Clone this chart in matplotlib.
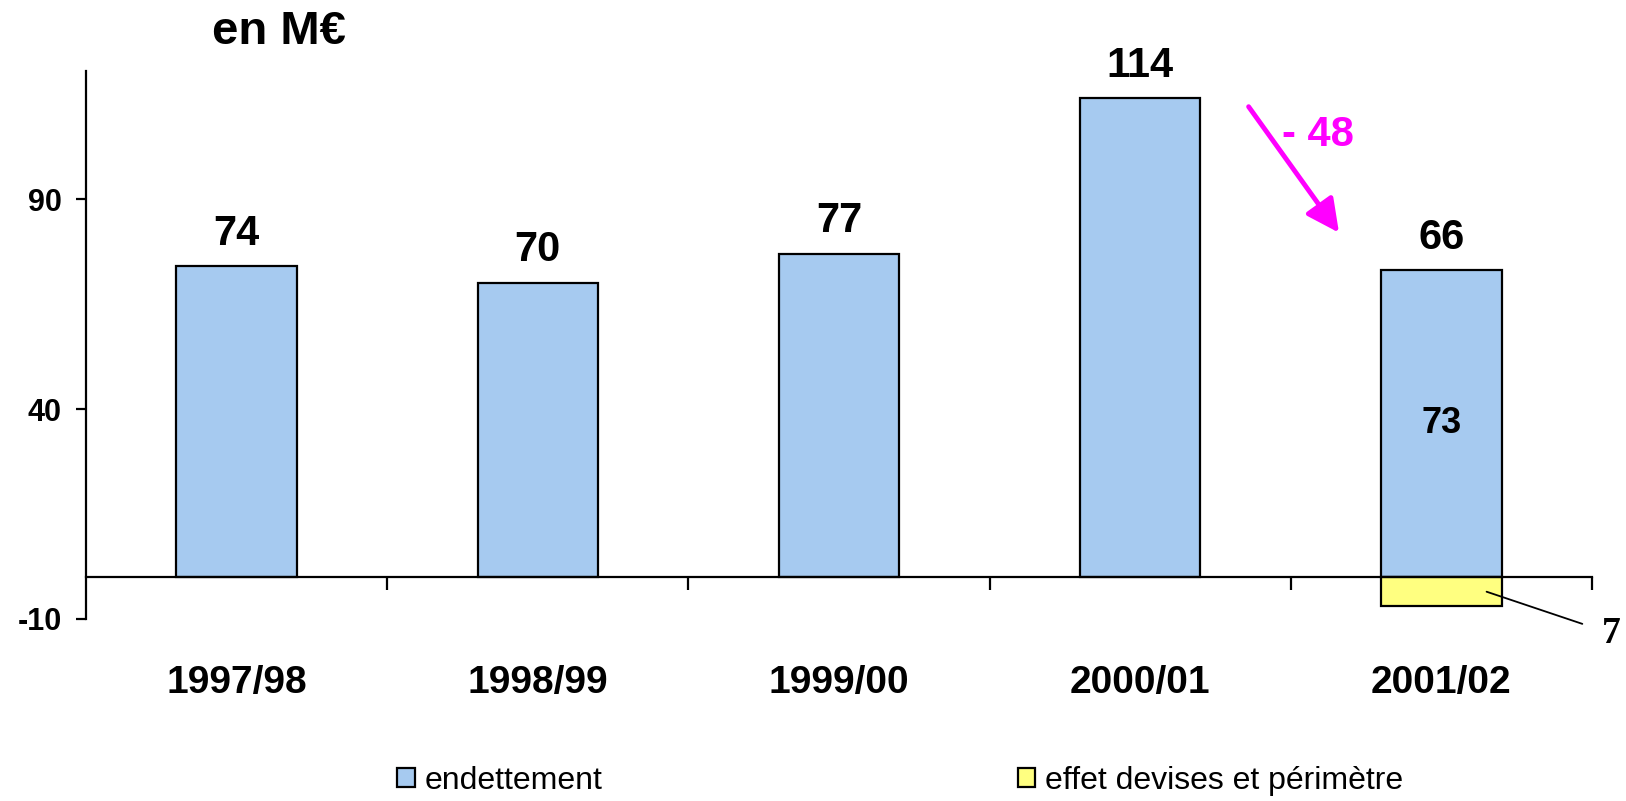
import matplotlib
matplotlib.use("Agg")
import matplotlib.pyplot as plt
import numpy as np
from matplotlib.patches import Patch

categories = ["1997/98", "1998/99", "1999/00", "2000/01", "2001/02"]
endettement = [74, 70, 77, 114, 73]
effet = [0, 0, 0, 0, -7]
top_labels = [74, 70, 77, 114, 66]
variation = "- 48"
yticks = [-10, 40, 90]

plt.rcParams['font.family'] = ['Liberation Sans', 'DejaVu Sans']

fig = plt.figure(figsize=(16.26, 8.01), dpi=100)
ax = fig.add_axes([86/1626, 1-619/801, (1592-86)/1626, (619-71)/801])

x = np.arange(len(categories))
w = 0.4
blue = "#A6CAF0"
yellow = "#FFFF80"
ax.bar(x, endettement, width=w, color=blue, edgecolor="black", linewidth=1.6, zorder=2)
ax.bar(x[-1], effet[-1], width=w, color=yellow, edgecolor="black", linewidth=1.6, zorder=2)

ax.set_xlim(-0.5, len(categories) - 0.5)
ax.set_ylim(-10, 120.5)

for s in ["top", "right"]:
    ax.spines[s].set_visible(False)
ax.spines["left"].set_linewidth(1.6)
ax.spines["bottom"].set_linewidth(1.6)
ax.spines["bottom"].set_position(("data", 0))

ax.set_yticks(yticks)
ax.set_yticklabels([str(v) for v in yticks], fontsize=22, fontweight="bold")
ax.tick_params(axis="y", direction="out", length=7.5, width=1.6, pad=10)

ax.set_xticks(x)
ax.set_xticklabels(categories, fontsize=28, fontweight="bold")
ax.tick_params(axis="x", which="major", length=0, pad=63)
ax.set_xticks(x + 0.5, minor=True)
ax.tick_params(axis="x", which="minor", direction="out", length=9.5, width=1.6)

# labels on top
for xi, h, lab in zip(x, endettement, top_labels):
    ax.text(xi, h + 3, str(lab), ha="center", va="bottom", fontsize=30, fontweight="bold")

# inside label for last bar
ax.text(x[-1], endettement[-1] / 2, str(endettement[-1]), ha="center", va="center",
        fontsize=26, fontweight="bold")

# effet label with leader line
ax.annotate(str(abs(effet[-1])), xy=(x[-1] + 0.15, effet[-1] / 2),
            xytext=(x[-1] + 0.565, effet[-1] - 6.5), textcoords="data",
            fontsize=27, fontweight="bold", ha="center", va="center",
            family=["Liberation Serif", "DejaVu Serif"],
            arrowprops=dict(arrowstyle="-", color="black", lw=1.3, shrinkA=13, shrinkB=0),
            annotation_clip=False)

# arrow
ax.annotate("", xy=(x[-1] - 0.34, top_labels[-1] + 16), xytext=(x[-2] + 0.36, endettement[-2] - 2),
            arrowprops=dict(arrowstyle="-|>,head_length=2.0,head_width=1.0", color="#FF00FF",
                            lw=3.5, shrinkA=0, shrinkB=0), annotation_clip=False)
ax.text(x[-2] + 0.47, 105.2, variation, color="#FF00FF", fontsize=30, fontweight="bold",
        ha="left", va="center")

fig.text(212/1626, 1-32/801, "en M€", fontsize=34, fontweight="bold", ha="left", va="center")

handles = [Patch(facecolor=blue, edgecolor="black", linewidth=1.6),
           Patch(facecolor=yellow, edgecolor="black", linewidth=1.6)]
fig.legend(handles, ["endettement", "effet devises et périmètre"], loc="center",
           bbox_to_anchor=(900/1626, 1-781/801), ncol=2, frameon=False, fontsize=23,
           handlelength=0.55, handleheight=0.55, handletextpad=0.3, columnspacing=13.0,
           borderpad=0.1)

fig.savefig("out.png", dpi=100)
